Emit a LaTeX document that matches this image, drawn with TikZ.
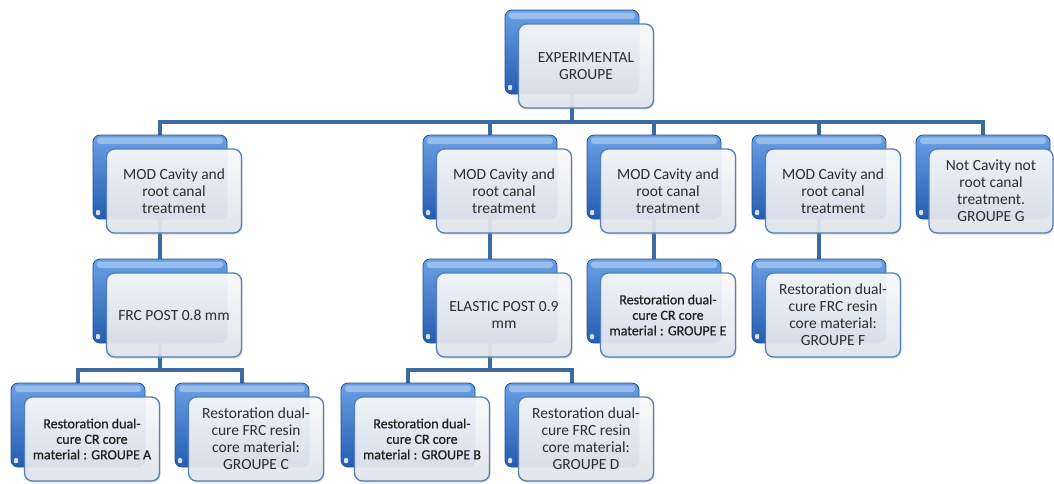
\documentclass[tikz,border=0pt]{standalone}
\usepackage{fontspec}
\setmainfont{Carlito}
\newfontfamily\heavyfont{Carlito}[FakeBold=0.6]
\usetikzlibrary{backgrounds,shadows,calc}
\definecolor{linec}{RGB}{62,106,162}
\definecolor{bluetop}{RGB}{105,160,230}
\definecolor{bluebot}{RGB}{36,92,176}
\definecolor{bluedark}{RGB}{38,80,145}
\definecolor{fronttop}{RGB}{251,252,253}
\definecolor{frontbot}{RGB}{225,230,237}
\definecolor{frontborder}{RGB}{84,126,184}
\definecolor{textc}{RGB}{45,45,45}
\tikzset{
  backbox/.style={rectangle, rounded corners=7pt, minimum width=134pt, minimum height=84pt,
    inner sep=0pt, draw=bluedark, line width=0.8pt, top color=bluetop, bottom color=bluebot,
    path picture={
      \fill[white,opacity=0.35,rounded corners=3pt]
        ([xshift=4pt,yshift=-2.5pt]path picture bounding box.north west) rectangle
        ([xshift=-4pt,yshift=-9pt]path picture bounding box.north east);
      \fill[white,opacity=0.8,rounded corners=1pt]
        ([xshift=3pt,yshift=4pt]path picture bounding box.south west) rectangle ++(4pt,5pt);
    }},
  frontbox/.style={rectangle, rounded corners=8pt, minimum width=135pt, minimum height=84pt,
    inner sep=2pt, draw=frontborder, line width=1.3pt, top color=fronttop, bottom color=frontbot,
    fill opacity=0.92, text opacity=1, align=center, text=textc,
    font=\fontsize{15.5}{17}\selectfont,
    drop shadow={opacity=0.25, shadow xshift=1pt, shadow yshift=-1.5pt}},
  heavytxt/.style={font=\heavyfont\fontsize{14}{15.5}\selectfont, text=black!88},
  conn/.style={draw=linec, line width=3.2pt}
}
\newcommand\pairbox[5][]{%
  \node[backbox] (#2b) at (#3,#4) {};
  \node[frontbox,#1] (#2) at ($(#2b)+(14,14)$) {#5};
}
\begin{document}
\begin{tikzpicture}[x=1pt,y=-1pt]
\useasboundingbox (0,0) rectangle (1054,483);

% top
\pairbox{top}{572}{52}{EXPERIMENTAL\\GROUPE}

% row 2
\pairbox{r2a}{160}{177}{MOD Cavity and\\root canal\\treatment}
\pairbox{r2b}{490}{177}{MOD Cavity and\\root canal\\treatment}
\pairbox{r2c}{654}{177}{MOD Cavity and\\root canal\\treatment}
\pairbox{r2d}{819}{177}{MOD Cavity and\\root canal\\treatment}
\node[backbox] (r2eb) at (983,177) {};
\node[frontbox, minimum width=124pt] (r2e) at (991,191) {Not Cavity not\\root canal\\treatment.\\GROUPE G};

% row 3
\pairbox{r3a}{160}{301}{FRC POST 0.8 mm}
\pairbox{r3b}{490}{301}{ELASTIC POST 0.9\\mm}
\pairbox[heavytxt]{r3c}{654}{301}{Restoration dual-\\cure CR core\\material : GROUPE E}
\pairbox{r3d}{819}{301}{Restoration dual-\\cure FRC resin\\core material:\\GROUPE F}

% row 4
\pairbox[heavytxt]{r4a}{78}{425}{Restoration dual-\\cure CR core\\material : GROUPE A}
\pairbox{r4c}{242}{425}{Restoration dual-\\cure FRC resin\\core material:\\GROUPE C}
\pairbox[heavytxt]{r4b}{408}{425}{Restoration dual-\\cure CR core\\material : GROUPE B}
\pairbox{r4d}{572}{425}{Restoration dual-\\cure FRC resin\\core material:\\GROUPE D}

\begin{scope}[on background layer]
  \fill[white] (0,0) rectangle (1054,483);
  \coordinate (bus1) at (572,122);
  \draw[conn] (topb.center) -- (bus1);
  \foreach \n in {r2a,r2b,r2c,r2d,r2e} \draw[conn] (bus1) -| (\n b.north);
  \foreach \n in {a,b,c,d} \draw[conn] (r2\n b.center) -- (r3\n b.north);
  \coordinate (bus2) at (160,370);
  \coordinate (bus3) at (490,370);
  \draw[conn] (r3ab.center) -- (bus2);
  \draw[conn] (bus2) -| (r4ab.north);
  \draw[conn] (bus2) -| (r4cb.north);
  \draw[conn] (r3bb.center) -- (bus3);
  \draw[conn] (bus3) -| (r4bb.north);
  \draw[conn] (bus3) -| (r4db.north);
\end{scope}
\end{tikzpicture}
\end{document}
